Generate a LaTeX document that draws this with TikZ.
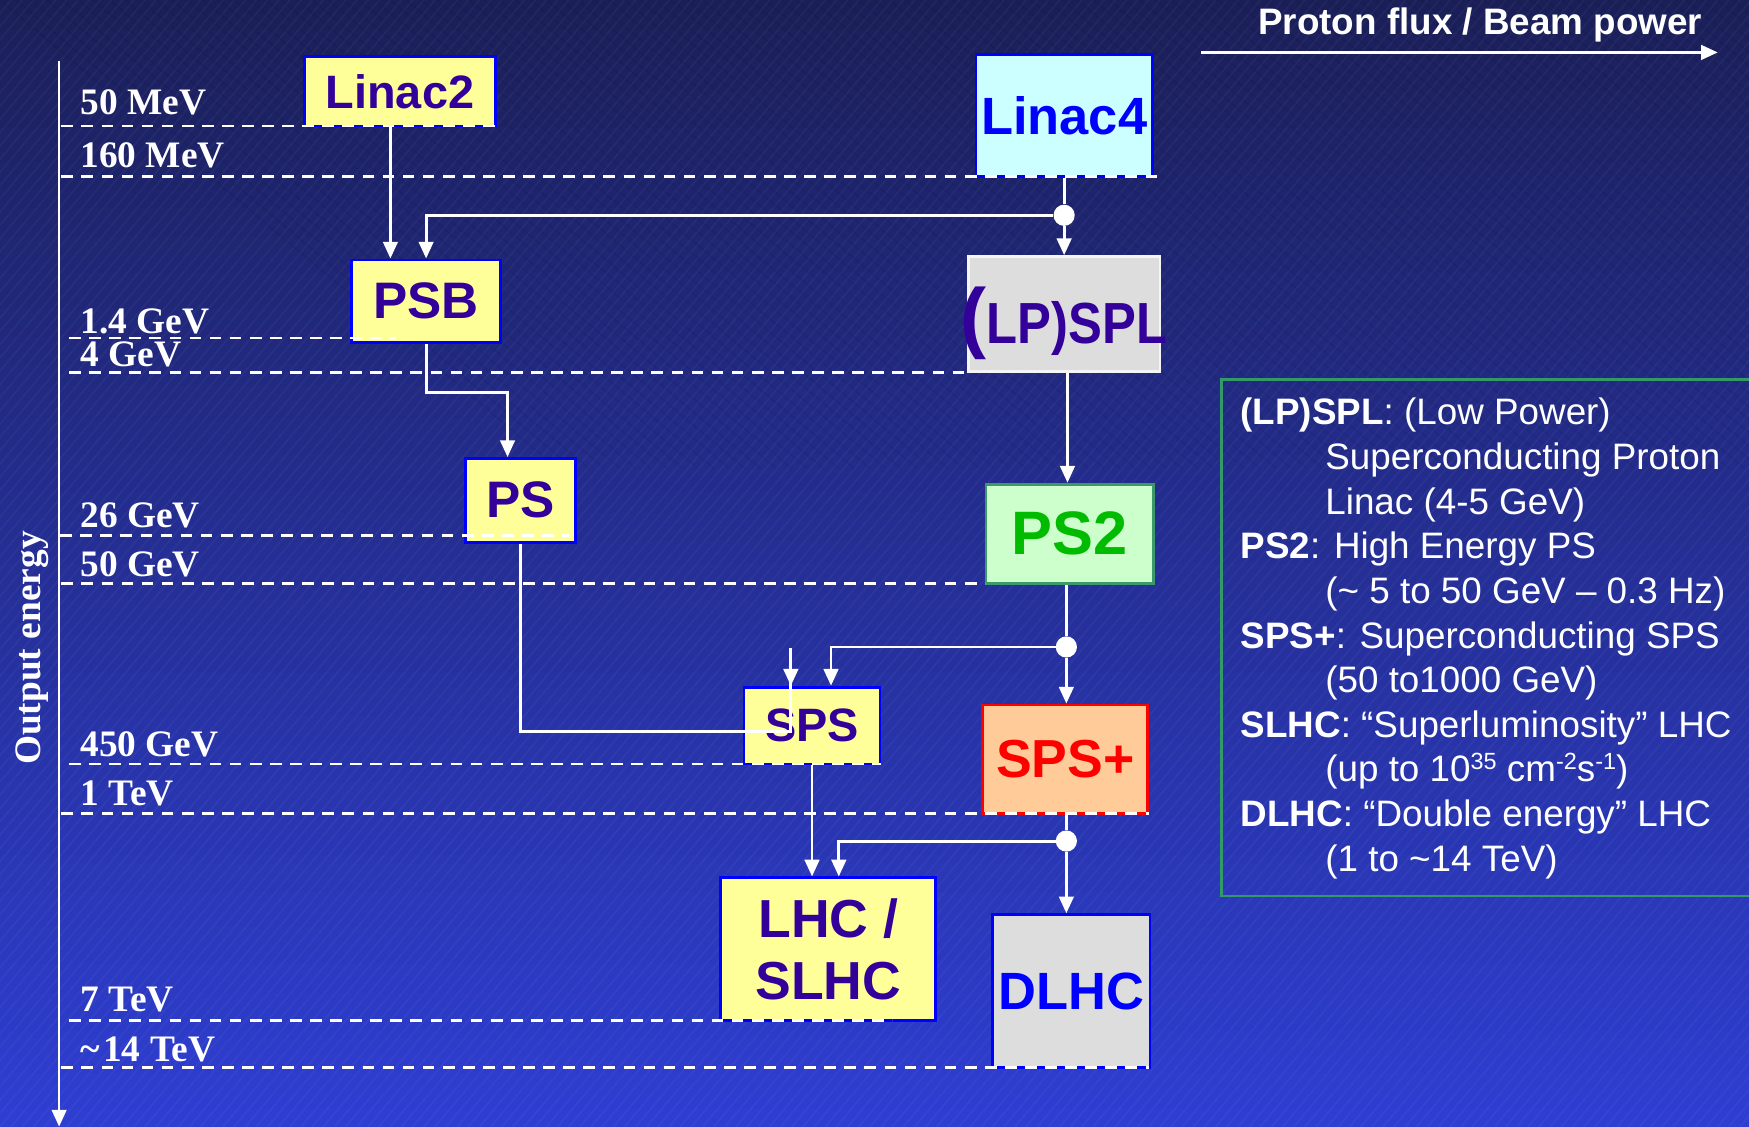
\documentclass[tikz,border=0pt]{standalone}
\usepackage{fontspec}
\setmainfont{Liberation Sans}
\newfontfamily\tms{Liberation Serif}
\usepackage{graphicx}
\usetikzlibrary{arrows.meta,calc}
\definecolor{bgtop}{RGB}{27,31,88}
\definecolor{bgmid}{RGB}{36,46,150}
\definecolor{bgbot}{RGB}{46,62,210}
\definecolor{yel}{HTML}{FFFF99}
\definecolor{bblue}{HTML}{0000FF}
\definecolor{purp}{HTML}{330099}
\definecolor{cyanf}{HTML}{CCFFFF}
\definecolor{grayf}{HTML}{DDDDDD}
\definecolor{greenf}{HTML}{CCFFCC}
\definecolor{greenb}{HTML}{3C9A6A}
\definecolor{greent}{HTML}{00BB00}
\definecolor{peach}{HTML}{FFCC99}
\definecolor{redc}{HTML}{FF0000}
\definecolor{legb}{HTML}{339966}
\newcommand\bsz[1]{\bfseries\fontsize{#1}{#1}\selectfont}
\newcommand\supr[1]{\raisebox{11pt}{\fontsize{21}{21}\selectfont #1}}
\begin{document}
\begin{tikzpicture}[x=1pt,y=-1pt,
  box/.style={draw, line width=2.5pt, inner sep=0pt, align=center},
  elab/.style={anchor=base west, text=white, inner sep=0pt, font=\tms\bfseries\fontsize{33.5}{33.5}\selectfont},
  guide/.style={white, line width=2.4pt, dash pattern=on 10.5pt off 7.5pt},
  conn/.style={white, line width=2.6pt},
  arr/.style={conn, -{Triangle[length=15pt,width=13pt]}},
  dot/.style={circle, fill=white, inner sep=0pt, minimum size=19pt},
  leg/.style={anchor=base west, text=white, inner sep=0pt, font=\fontsize{33}{33}\selectfont}]
\useasboundingbox (0,0) rectangle (1568,1010);
\clip (0,0) rectangle (1568,1010);
% background
\shade[top color=bgtop, middle color=bgmid, bottom color=bgbot] (0,0) rectangle (1568,1010);
\foreach \i in {-1100,-1090,...,1568} \draw[white, opacity=0.035, line width=1.6pt] (\i,1010) -- ++(850,-1010);
\foreach \i in {0,14,...,1568} \draw[black, opacity=0.05, line width=1.5pt] (\i,0) -- ++(500,420);

% boxes
\node[box, fill=yel, draw=bblue, text=purp, minimum width=171pt, minimum height=62pt, font=\bsz{42}] (lin2) at (358.5,82) {Linac2};
\node[box, fill=cyanf, draw=bblue, text=bblue, minimum width=158pt, minimum height=109pt, font=\bsz{47}] (lin4) at (954,103.5) {Linac4};
\node[box, fill=yel, draw=bblue, text=purp, minimum width=134pt, minimum height=74pt, font=\bsz{46}] (psb) at (382,270) {PSB};
\node[box, fill=grayf, draw=white!92!gray, minimum width=172pt, minimum height=103pt] (lpspl) at (954,281.5) {};
\node[inner sep=0pt, text=purp, font=\bfseries] (lpspltxt) at (954,289.5) {\makebox[0pt]{\fontsize{70}{70}\selectfont(\scalebox{0.875}[1]{\fontsize{52}{52}\selectfont LP)SPL}}};
\node[box, fill=yel, draw=bblue, text=purp, minimum width=99pt, minimum height=75pt, font=\bsz{46}] (ps) at (466.5,448.5) {PS};
\node[box, fill=greenf, draw=greenb, text=greent, minimum width=150pt, minimum height=89pt, font=\bsz{55}] (ps2) at (959,478.5) {PS2};
\node[box, fill=yel, draw=bblue, text=purp, minimum width=122pt, minimum height=69pt, font=\bsz{42}] (sps) at (728,650.5) {SPS};
\node[box, fill=peach, draw=redc, text=redc, minimum width=148pt, minimum height=97pt, font=\bsz{48}] (spsp) at (955,680.5) {SPS+};
\node[box, fill=yel, draw=bblue, text=purp, minimum width=193pt, minimum height=128pt, font=\bfseries\fontsize{48}{56}\selectfont] (lhc) at (742.5,851) {LHC /\\SLHC};
\node[box, fill=grayf, draw=bblue, text=bblue, minimum width=141pt, minimum height=137pt, font=\bsz{47}] (dlhc) at (960.5,888.5) {DLHC};

% junctions and corners
\node[dot] (dot1) at (954,193) {};
\node[dot] (dot2) at (956,580) {};
\node[dot] (dot3) at (956,754) {};
\coordinate (k1) at (382,352);
\coordinate (k2) at (709,581);
\coordinate (k3) at (709,656);

% connectors
\draw[arr] ([xshift=-8.5pt]lin2.south) -- ([xshift=-32pt]psb.north);
\draw[conn] (lin4.south) -- (dot1);
\draw[arr] (dot1) -- (lpspl.north);
\draw[arr] (dot1) -| (psb.north);
\draw[arr] (psb.south) -- (k1) -| ([xshift=-11.5pt]ps.north);
\draw[conn] (ps.south) |- (k3) -- (k2);
\draw[arr] (k2) -- (sps.north -| k2);
\draw[arr] ([xshift=3pt]lpspl.south) -- ([xshift=-2pt]ps2.north);
\draw[conn] (ps2.south -| dot2) -- (dot2);
\draw[arr] (dot2) -- (spsp.north -| dot2);
\draw[arr] (dot2) -| ([xshift=17pt]sps.north);
\draw[arr] (sps.south) -- (lhc.north -| sps.south);
\draw[conn] (spsp.south -| dot3) -- (dot3);
\draw[arr] (dot3) -- (dlhc.north -| dot3);
\draw[arr] (dot3) -| ([xshift=9.5pt]lhc.north);

% energy axis
\coordinate (axtop) at (53,55);
\coordinate (axbot) at (53,1010);
\draw[arr, line width=2.4pt] (axtop) -- (axbot);
\node[rotate=90, text=white, inner sep=0pt, font=\tms\bfseries\fontsize{33.5}{33.5}\selectfont] (oe) at (29,581) {Output energy};

% guide lines
\draw[guide] (55,113) -- (447,113);
\draw[guide] (55,158) -- (1042,158);
\draw[guide] (62,303) -- (355,303);
\draw[guide] (62,334) -- (868,334);
\draw[guide] (54,480) -- (510,480);
\draw[guide] (55,523) -- (883,523);
\draw[guide] (62,685) -- (790,685);
\draw[guide] (55,729) -- (1030,729);
\draw[guide] (62,915) -- (800,915);
\draw[guide] (55,957) -- (1030,957);

% energy labels
\node[elab] (e1) at (72,103) {50 MeV};
\node[elab] (e2) at (72,150) {160 MeV};
\node[elab] (e3) at (72,299) {1.4 GeV};
\node[elab] (e4) at (72,329) {4 GeV};
\node[elab] (e5) at (72,473) {26 GeV};
\node[elab] (e6) at (72,517) {50 GeV};
\node[elab] (e7) at (72,678) {450 GeV};
\node[elab] (e8) at (72,722) {1 TeV};
\node[elab] (e9) at (72,907) {7 TeV};
\node[elab] (e10) at (72,952) {\textasciitilde\kern3pt 14 TeV};

% proton flux arrow
\coordinate (pf1) at (1077,47);
\coordinate (pf2) at (1540,47);
\draw[arr] (pf1) -- (pf2);
\node[anchor=base, text=white, inner sep=0pt, font=\bsz{33}] (pft) at (1327,31) {Proton flux / Beam power};

% legend
\node[draw=legb, line width=2.5pt, inner sep=0pt, minimum width=520pt, minimum height=463pt, anchor=north west] (legend) at (1094,339) {};
\node[leg] (l1) at (1112,381) {\textbf{(LP)SPL}: (Low Power)};
\node[leg] (l2) at (1188,421) {Superconducting Proton};
\node[leg] (l3) at (1188,461) {Linac (4-5 GeV)};
\node[leg] (l4) at (1112,501) {\textbf{PS2}: High Energy PS};
\node[leg] (l5) at (1188,541) {(\textasciitilde{} 5 to 50 GeV – 0.3 Hz)};
\node[leg] (l6) at (1112,581) {\textbf{SPS+}: Superconducting SPS};
\node[leg] (l7) at (1188,621) {(50 to1000 GeV)};
\node[leg] (l8) at (1112,661) {\textbf{SLHC}: “Superluminosity” LHC};
\node[leg] (l9) at (1188,701) {(up to 10\supr{35} cm\supr{-2}s\supr{-1})};
\node[leg] (l10) at (1112,741) {\textbf{DLHC}: “Double energy” LHC};
\node[leg] (l11) at (1188,781) {(1 to \textasciitilde14 TeV)};
\end{tikzpicture}
\end{document}
